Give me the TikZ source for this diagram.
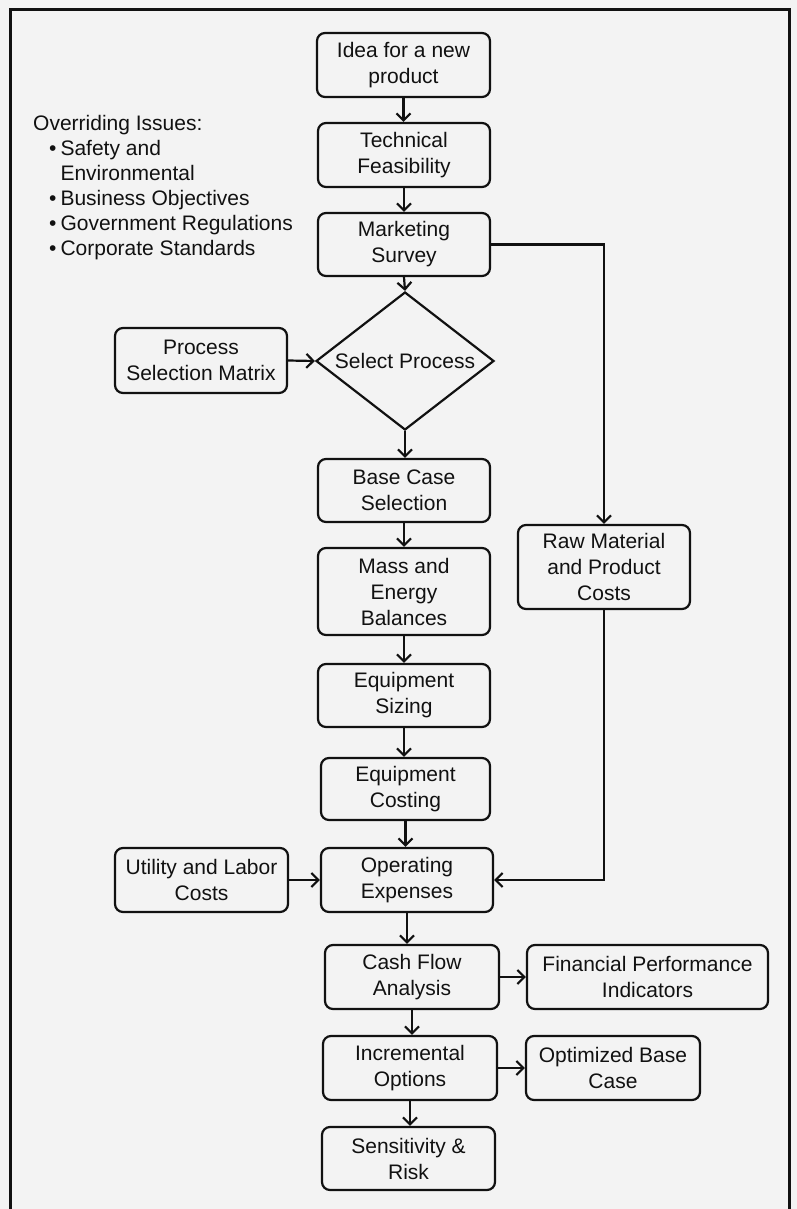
\documentclass[tikz,border=0pt]{standalone}
\usepackage{fontspec}
\setmainfont{Liberation Sans}
\usetikzlibrary{arrows.meta,shapes.geometric}
\definecolor{paper}{HTML}{F3F3F3}
\definecolor{ink}{HTML}{111111}
\tikzset{
	blk/.style 2 args={draw=ink, line width=2.2pt, rounded corners=8pt, align=center, inner sep=1pt,
		minimum width=#1pt, minimum height=#2pt, text=ink, font=\fontsize{21}{26}\selectfont},
	dec/.style={draw=ink, line width=2.2pt, diamond, aspect=1.29, inner sep=0pt,
		minimum width=178pt, minimum height=138pt, text=ink, font=\fontsize{21}{26}\selectfont},
	flow/.style={draw=ink, line width=2.2pt, -{Straight Barb[length=7pt,width=14pt,line width=2.2pt]}},
}

\begin{document}
\begin{tikzpicture}[x=1pt, y=-1pt]
		%%%%% START %%%%%
		
		\useasboundingbox[fill=paper] (0, 0) rectangle (797, 1209);
		\draw[ink, line width=3pt] (10, 1220) -- (10, 10) -- (789, 10) -- (789, 1220);
		
		\node[anchor=north west, inner sep=0pt, align=left, text=ink, font=\fontsize{21}{25}\selectfont] (issues) at (33, 113)
			{\begin{tabular}{@{\hspace{16pt}}l@{\hspace{4pt}}l}
				\multicolumn{2}{@{}l}{Overriding Issues:}\\
				\textbullet & Safety and\\
				 & Environmental\\
				\textbullet & Business Objectives\\
				\textbullet & Government Regulations\\
				\textbullet & Corporate Standards
			\end{tabular}};
		
		\node[blk={173}{64}] (idea) at (403.5, 65) {Idea for a new\\product};
		\node[blk={172}{64}] (tech) at (404, 155) {Technical\\Feasibility};
		\node[blk={172}{63}] (survey) at (404, 244.5) {Marketing\\Survey};
		\node[dec] (select) at (405, 361) {Select Process};
		\node[blk={172}{65}] (matrix) at (201, 360.5) {Process\\Selection Matrix};
		\node[blk={172}{63}] (base) at (404, 490.5) {Base Case\\Selection};
		\node[blk={172}{87}] (mass) at (404, 591.5) {Mass and\\Energy\\Balances};
		\node[blk={172}{84}] (raw) at (604, 567) {Raw Material\\and Product\\Costs};
		\node[blk={172}{63}] (sizing) at (404, 695.5) {Equipment\\Sizing};
		\node[blk={169}{62}] (costing) at (405.5, 789) {Equipment\\Costing};
		\node[blk={172}{64}] (opex) at (407, 880) {Operating\\Expenses};
		\node[blk={173}{64}] (utility) at (201.5, 880) {Utility and Labor\\Costs};
		\node[blk={174}{64}] (cash) at (412, 977) {Cash Flow\\Analysis};
		\node[blk={241}{64}] (fpi) at (647.5, 977) {Financial Performance\\Indicators};
		\node[blk={174}{64}] (incr) at (410, 1068) {Incremental\\Options};
		\node[blk={174}{64}] (optim) at (613, 1068) {Optimized Base\\Case};
		\node[blk={173}{63}] (sens) at (408.5, 1158.5) {Sensitivity \&\\Risk};
		
		\draw[flow] (idea.south) -- (idea.south |- tech.north);
		\draw[flow] (tech.south) -- (tech.south |- survey.north);
		\draw[flow] (survey.south) -- (select.north);
		\draw[flow] (matrix.east) -- (select.west);
		\draw[flow] (select.south) -- (select.south |- base.north);
		\draw[flow] (base.south) -- (base.south |- mass.north);
		\draw[flow] (mass.south) -- (mass.south |- sizing.north);
		\draw[flow] (sizing.south) -- (sizing.south |- costing.north);
		\draw[flow] (costing.south) -- (costing.south |- opex.north);
		\draw[flow] (utility.east) -- (utility.east -| opex.west);
		\draw[flow] (survey.east) -| (raw.north);
		\draw[flow] (raw.south) |- (opex.east);
		\draw[flow] (opex.south) -- (opex.south |- cash.north);
		\draw[flow] (cash.east) -- (cash.east -| fpi.west);
		\draw[flow] (cash.south) -- (cash.south |- incr.north);
		\draw[flow] (incr.east) -- (incr.east -| optim.west);
		\draw[flow] (incr.south) -- (incr.south |- sens.north);
		
		%%%%% END %%%%%
\end{tikzpicture}
\end{document}
